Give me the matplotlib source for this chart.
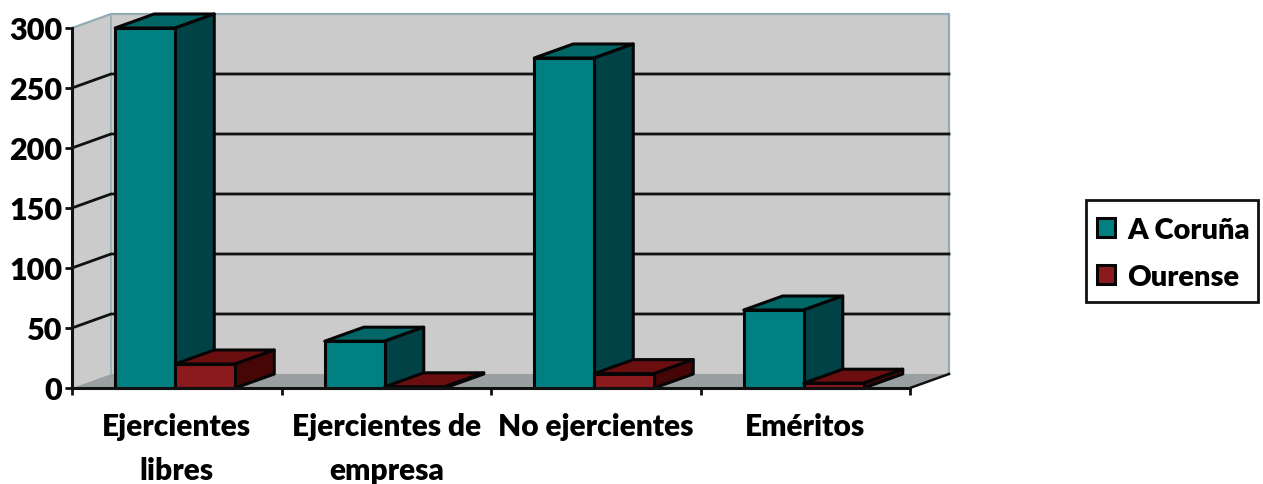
import matplotlib
matplotlib.use('Agg')
import matplotlib.pyplot as plt
from matplotlib.patches import Polygon, Patch, Rectangle
import numpy as np

plt.rcParams['font.family'] = ['Lato', 'DejaVu Sans']
plt.rcParams['font.weight'] = 'heavy'

categories = ['Ejercientes\nlibres', 'Ejercientes de\nempresa', 'No ejercientes', 'Eméritos']
coruna = [300, 39, 275, 65]
ourense = [20, 1, 12, 4]
series_names = ['A Coruña', 'Ourense']
y_ticks = [0, 50, 100, 150, 200, 250, 300]

# front / top / side colours
teal = ('#008080', '#006666', '#004245')
red = ('#8A1A1C', '#6A0E10', '#470606')

W, H = 1263, 485
fig = plt.figure(figsize=(W / 100, H / 100), dpi=100, facecolor='white')
ax = fig.add_axes([72 / W, 1 - 389 / H, (910 - 72) / W, 360 / H])
ax.set_xlim(0, 4)
ax.set_ylim(0, 300)
ax.patch.set_visible(False)

# 3d depth in data units
dx = 39 / 209.5
dy = 14 / 1.2
bar_w = 60 / 209.5


def poly(pts, fc, ec='none', lw=0, z=1):
    ax.add_patch(Polygon(pts, closed=True, facecolor=fc, edgecolor=ec, linewidth=lw,
                         zorder=z, clip_on=False, joinstyle='round'))


# walls and floor
poly([(0, 0), (dx, dy), (dx, 300 + dy), (0, 300)], '#CBCBCB', z=1)
poly([(dx, dy), (4 + dx, dy), (4 + dx, 300 + dy), (dx, 300 + dy)], '#CBCBCB', z=1)
poly([(0, 0), (dx, dy), (4 + dx, dy), (4, 0)], '#9A9FA1', z=1)
wall = '#93ABB5'
ax.plot([0, dx, 4 + dx, 4 + dx], [300, 300 + dy, 300 + dy, dy], color=wall, lw=1.6, zorder=2, clip_on=False)
ax.plot([dx, dx], [dy, 300 + dy], color=wall, lw=1.2, zorder=2, clip_on=False)
ax.plot([4, 4 + dx], [0, dy], color='#111111', lw=1.8, zorder=2, clip_on=False)

for v in y_ticks[1:-1]:
    ax.plot([0, dx, 4 + dx], [v, v + dy, v + dy], color='#111111', lw=2, zorder=2, clip_on=False)


def bar3d(x0, v, cols, z):
    x1 = x0 + bar_w
    poly([(x0, v), (x0 + dx, v + dy), (x1 + dx, v + dy), (x1, v)], cols[1], '#050505', 2.2, z)
    poly([(x1, 0), (x1 + dx, dy), (x1 + dx, v + dy), (x1, v)], cols[2], '#050505', 2.2, z)
    poly([(x0, 0), (x1, 0), (x1, v), (x0, v)], cols[0], '#050505', 2.2, z)


for i in range(len(categories)):
    c = i + 0.5 - 1.5 / 209.5
    bar3d(c - bar_w, coruna[i], teal, 3 + i)
    bar3d(c, ourense[i], red, 3.5 + i)

ax.spines['top'].set_visible(False)
ax.spines['right'].set_visible(False)
for s in ['left', 'bottom']:
    ax.spines[s].set_linewidth(2.2)
    ax.spines[s].set_color('#111111')
    ax.spines[s].set_zorder(10)

ax.set_yticks(y_ticks)
ax.tick_params(axis='y', length=5, width=2, labelsize=22, pad=2, color='#111111')
ax.set_xticks(np.arange(5))
ax.set_xticklabels([])
ax.tick_params(axis='x', which='major', length=5, width=2, color='#111111')
ax.set_xticks(np.arange(4) + 0.5, minor=True)
ax.set_xticklabels(categories, minor=True, fontsize=21.5, linespacing=1.72, va='top')
ax.tick_params(axis='x', which='minor', length=0, pad=17)

# legend box drawn apart, it is taller than the legend padding allows
fig.add_artist(Rectangle((1086 / W, 1 - 303 / H), 172 / W, 102 / H, transform=fig.transFigure,
                         facecolor='white', edgecolor='#111111', linewidth=2))
handles = [Patch(facecolor=teal[0], edgecolor='#050505', linewidth=2.2),
           Patch(facecolor=red[0], edgecolor='#050505', linewidth=2.2)]
leg = fig.legend(handles, series_names, loc='upper left',
                 bbox_to_anchor=(1097 / W, 1 - 218 / H), bbox_transform=fig.transFigure,
                 fontsize=21, frameon=False, borderaxespad=0, borderpad=0, labelspacing=0.72,
                 handlelength=0.62, handleheight=0.62, handletextpad=0.42)

fig.savefig('out.png', dpi=100)
